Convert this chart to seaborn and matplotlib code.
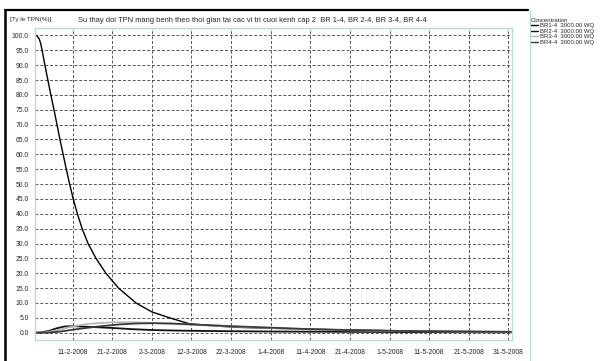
import numpy as np
import pandas as pd
import matplotlib
matplotlib.use("Agg")
import matplotlib.pyplot as plt
import matplotlib.dates as mdates
from matplotlib.lines import Line2D
from matplotlib.ticker import FixedLocator, MultipleLocator, FuncFormatter
import seaborn as sns

# ---------------- data (days after 1-2-2008, value %) ----------------
br1_days = [0.5, 1.0, 1.5, 1.9, 2.3, 3.0, 3.75, 4.5, 5.3, 6.05, 6.8, 7.6, 8.4, 9.25,
            10.15, 11.2, 12.4, 13.9, 15.9, 18.4, 21.6, 26, 30, 34.5, 39.5, 44, 48,
            52, 60, 70, 80, 90, 100, 110, 120.8]
br1_vals = [100, 99.8, 99.0, 97.5, 95, 90, 85, 80, 75, 70, 65, 60, 55, 50,
            45, 40, 35, 30, 25, 20, 15, 10, 7.0, 5.0, 3.0, 2.5, 2.1,
            1.8, 1.5, 1.2, 0.9, 0.7, 0.5, 0.4, 0.3]

br2_days = [0.5, 2, 4, 6, 8, 10, 12, 15, 20, 25, 30, 35, 40, 50, 60, 80, 100, 120.8]
br2_vals = [0, 0.1, 0.6, 1.5, 2.1, 2.2, 2.1, 1.9, 1.6, 1.2, 0.9, 0.75, 0.65, 0.5, 0.4,
            0.3, 0.2, 0.15]

br3_days = [0.5, 3, 6, 9, 12, 15, 20, 25, 30, 35, 40, 45, 50, 60, 70, 80, 90, 100, 110, 120.8]
br3_vals = [0, 0.1, 0.8, 1.8, 2.6, 3.1, 3.5, 3.5, 3.3, 3.0, 2.7, 2.4, 2.1, 1.6, 1.1,
            0.8, 0.6, 0.45, 0.35, 0.3]

br4_days = [0.5, 4, 7, 10, 14, 18, 22, 26, 30, 35, 40, 45, 50, 60, 70, 80, 90, 100, 110, 120.8]
br4_vals = [0, 0.05, 0.4, 1.0, 1.7, 2.3, 2.8, 3.1, 3.2, 3.1, 2.8, 2.5, 2.2, 1.7, 1.2,
            0.9, 0.65, 0.5, 0.4, 0.3]

series_names = ["BR1-4  3000.00 WQ", "BR2-4  3000.00 WQ", "BR3-4  3000.00 WQ", "BR4-4  3000.00 WQ"]
series_colors = ["#000000", "#111111", "#b8b8b8", "#3a3a3a"]

tick_dates = ["2008-02-11", "2008-02-21", "2008-03-02", "2008-03-12", "2008-03-22",
              "2008-04-01", "2008-04-11", "2008-04-21", "2008-05-01", "2008-05-11",
              "2008-05-21", "2008-05-31"]

title_text = "Su thay doi TPN mang benh theo thoi gian tai cac vi tri cuoi kenh cap 2  BR 1-4, BR 2-4, BR 3-4, BR 4-4"
ylabel_text = "[Ty le TPN(%)]"
legend_title = "Concentration"

# ---------------- build table ----------------
base = pd.Timestamp("2008-02-01")
frames = []
for name, d, v in zip(series_names, [br1_days, br2_days, br3_days, br4_days],
                      [br1_vals, br2_vals, br3_vals, br4_vals]):
    frames.append(pd.DataFrame({
        "date": base + pd.to_timedelta(np.array(d), unit="D"),
        "value": v,
        "series": name,
    }))
df = pd.concat(frames, ignore_index=True)

# ---------------- plot ----------------
sns.set_style("white")
plt.rcParams["font.family"] = ["Liberation Sans", "DejaVu Sans"]

W, H = 602, 361
fig = plt.figure(figsize=(W / 100, H / 100), dpi=100)
ax = fig.add_axes([35 / W, 1 - 340 / H, (511.5 - 35) / W, (340 - 28.3) / H])

spine_c = "#b9ddd3"
grid_c = "#555555"
ax.set_axisbelow(True)

widths = [1.0, 1.3, 1.3, 1.3]
for name, c, lw in zip(series_names, series_colors, widths):
    sub = df[df["series"] == name]
    sns.lineplot(data=sub, x="date", y="value", ax=ax, color=c, linewidth=lw,
                 legend=False, estimator=None, sort=False)

ax.set_xlim(base + pd.Timedelta(days=0.5), base + pd.Timedelta(days=120.8))

major = [mdates.date2num(pd.Timestamp(t)) for t in tick_dates]
ax.xaxis.set_major_locator(FixedLocator(major))
minor = [mdates.date2num(t) for t in pd.date_range("2008-02-01", "2008-06-01", freq="2D")]
ax.xaxis.set_minor_locator(FixedLocator(minor))
ax.xaxis.set_major_formatter(FuncFormatter(
    lambda x, p: f"{mdates.num2date(x).day}-{mdates.num2date(x).month}-{mdates.num2date(x).year}"))

ax.yaxis.set_major_locator(MultipleLocator(5))
ax.yaxis.set_minor_locator(MultipleLocator(2.5))
ax.yaxis.set_major_formatter(FuncFormatter(lambda y, p: f"{y:.1f}"))
ax.set_ylim(-2.45, 102.4)

ax.grid(True, which="major", color=grid_c, linestyle=(0, (3, 2)), linewidth=0.7)
ax.tick_params(axis="both", which="major", labelsize=4.9, length=3, width=0.7,
               color=spine_c, pad=1.5, direction="out")
ax.tick_params(axis="x", which="major", pad=3.5, color=grid_c, length=3)
ax.tick_params(axis="both", which="minor", length=2.5, width=0.7, color=spine_c, direction="out")
for s in ax.spines.values():
    s.set_color(spine_c)
    s.set_linewidth(1.0)
ax.set_xlabel("")
ax.set_ylabel("")

# title and y label
fig.text(78 / W, 1 - 20 / H, title_text, fontsize=5.45, ha="left", va="center")
fig.text(10 / W, 1 - 19.5 / H, ylabel_text, fontsize=4.6, ha="left", va="center")

# outer frame lines
fig.add_artist(Line2D([4.5 / W, 528 / W], [1 - 9.5 / H, 1 - 9.5 / H], color="black",
                      linewidth=1.6, transform=fig.transFigure))
fig.add_artist(Line2D([5 / W, 5 / W], [1 - 9.5 / H, 0], color="black",
                      linewidth=1.8, transform=fig.transFigure))
fig.add_artist(Line2D([530 / W, 530 / W], [1 - 10 / H, 0], color=spine_c,
                      linewidth=1.0, transform=fig.transFigure))

# legend
handles = [Line2D([0], [0], color=c, linewidth=1.0) for c in series_colors]
leg = fig.legend(handles, series_names, title=legend_title, loc="upper left",
                 bbox_to_anchor=(531 / W, 1 - 18.0 / H), frameon=False, fontsize=4.3,
                 title_fontsize=4.3, handlelength=1.1, handletextpad=0.4,
                 labelspacing=0.06, borderaxespad=0, borderpad=0)
leg._legend_box.align = "left"
leg._legend_box.sep = 0

fig.savefig("out.png", dpi=100)
